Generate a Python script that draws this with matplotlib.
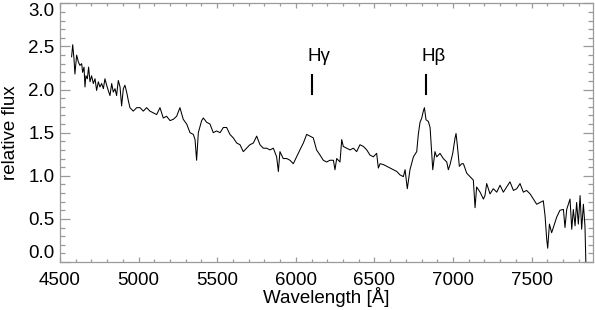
from matplotlib import pyplot as plt
from matplotlib.ticker import MultipleLocator

# spectrum (wavelength in Angstrom)
wave = [4574, 4581, 4589, 4595, 4606, 4617, 4627, 4638, 4644, 4653,
        4659, 4665, 4674, 4682, 4691, 4701, 4712, 4723, 4733, 4744,
        4754, 4765, 4776, 4786, 4797, 4807, 4818, 4829, 4839, 4850,
        4860, 4871, 4882, 4892, 4903, 4913, 4924, 4935, 4945,
        4966, 4988, 5009, 5030, 5051, 5072, 5094,
        5115, 5136, 5157, 5178, 5200, 5221, 5242, 5263, 5284, 5306,
        5327, 5348, 5359, 5369, 5380, 5401, 5412, 5433, 5454, 5475,
        5496, 5518, 5539, 5560, 5581, 5602, 5624, 5645, 5666, 5687,
        5708, 5730, 5751, 5772, 5793, 5814, 5836, 5857, 5878, 5889,
        5899, 5920, 5942, 5963, 5984, 6005, 6026, 6048, 6069, 6090,
        6111, 6132, 6154, 6175, 6196, 6217, 6239, 6249, 6260, 6281,
        6292, 6302, 6324, 6345, 6366, 6387, 6408, 6430, 6451, 6472,
        6493, 6514, 6525, 6536, 6557, 6578, 6599, 6620, 6642, 6663,
        6684, 6695, 6709, 6726, 6748, 6769, 6779, 6790, 6801, 6811,
        6818, 6828, 6843, 6854, 6864, 6871, 6885, 6896, 6917, 6938,
        6960, 6970, 6981, 6998, 7013, 7019, 7027, 7040, 7055, 7066,
        7087, 7108, 7129, 7140, 7150, 7172, 7193, 7203, 7214, 7235,
        7256, 7278, 7299, 7320, 7341, 7362, 7384, 7405, 7426, 7447,
        7468, 7490, 7511, 7532, 7553, 7574, 7585, 7596, 7602, 7613,
        7627, 7638, 7659, 7680, 7702, 7712, 7723, 7744, 7755, 7765,
        7776, 7786, 7797, 7808, 7818, 7829, 7839, 7846]
flux = [2.38, 2.52, 2.36, 2.18, 2.40, 2.32, 2.28, 2.30, 2.20, 2.26,
        2.03, 2.16, 2.125, 2.26, 2.09, 2.16, 2.07, 2.125, 1.99, 2.09,
        2.03, 2.07, 2.01, 2.125, 2.05, 1.99, 1.93, 2.07, 1.97, 2.01,
        1.93, 2.105, 2.03, 1.81, 2.01, 2.05, 1.97, 1.87, 1.79,
        1.75, 1.79, 1.79, 1.75, 1.79, 1.75, 1.73,
        1.71, 1.79, 1.67, 1.69, 1.64, 1.655, 1.69, 1.79, 1.655, 1.60,
        1.50, 1.48, 1.42, 1.18, 1.50, 1.64, 1.67, 1.62, 1.60, 1.50,
        1.52, 1.50, 1.56, 1.56, 1.48, 1.44, 1.38, 1.36, 1.28, 1.32,
        1.36, 1.38, 1.46, 1.36, 1.32, 1.32, 1.30, 1.32, 1.22, 1.05,
        1.28, 1.20, 1.20, 1.18, 1.14, 1.22, 1.30, 1.38, 1.48, 1.46,
        1.44, 1.30, 1.24, 1.18, 1.16, 1.18, 1.18, 1.07, 1.20, 1.16,
        1.42, 1.34, 1.32, 1.30, 1.32, 1.28, 1.36, 1.34, 1.30, 1.24,
        1.22, 1.26, 1.09, 1.14, 1.13, 1.11, 1.09, 1.07, 1.05, 1.01,
        0.99, 1.07, 0.85, 1.07, 1.22, 1.28, 1.48, 1.62, 1.67, 1.75,
        1.79, 1.65, 1.63, 1.56, 1.28, 1.07, 1.28, 1.22, 1.26, 1.20,
        1.16, 1.07, 1.13, 1.26, 1.44, 1.49, 1.36, 1.11, 1.14, 1.14,
        1.03, 0.99, 0.95, 0.63, 0.87, 0.81, 0.73, 0.77, 0.91, 0.79,
        0.85, 0.81, 0.89, 0.81, 0.87, 0.93, 0.83, 0.85, 0.91, 0.81,
        0.83, 0.79, 0.73, 0.67, 0.69, 0.71, 0.54, 0.26, 0.16, 0.44,
        0.34, 0.40, 0.52, 0.60, 0.61, 0.40, 0.61, 0.73, 0.38, 0.61,
        0.42, 0.69, 0.44, 0.77, 0.38, 0.67, 0.42, -0.1]

# line markers
line_names = ['H\u03b3', 'H\u03b2']
line_waves = [6105, 6828]

plt.rcParams['font.family'] = ['Liberation Sans', 'DejaVu Sans']
grey = '#9a9a9a'
fs = 13.5

fig = plt.figure(figsize=(5.95, 3.10), dpi=100)
ax = fig.add_axes([0.1008, 0.1548, 0.8958, 0.8345])
ax.plot(wave, flux, color='black', lw=0.75)

for name, w in zip(line_names, line_waves):
    ax.plot([w, w], [1.95, 2.17], color='black', lw=1.5)
    ax.text(w - 30, 2.38, name, fontsize=fs, ha='left', va='center')

ax.set_xlim(4500, 7890)
ax.set_ylim(0, 3.0)
ax.xaxis.set_major_locator(MultipleLocator(500))
ax.xaxis.set_minor_locator(MultipleLocator(100))
ax.yaxis.set_major_locator(MultipleLocator(0.5))
ax.yaxis.set_minor_locator(MultipleLocator(0.1))
ax.yaxis.set_major_formatter(plt.FormatStrFormatter('%.1f'))

for s in ax.spines.values():
    s.set_color(grey)
    s.set_linewidth(0.9)
ax.tick_params(which='both', direction='in', top=True, right=True,
               color=grey, width=0.9, labelsize=fs)
ax.tick_params(axis='x', which='major', length=3.6, pad=7)
ax.tick_params(axis='x', which='minor', length=2)
ax.tick_params(axis='y', which='major', length=7, pad=4)
ax.tick_params(axis='y', which='minor', length=3.6)

ax.set_xlabel('Wavelength [Å]', fontsize=fs, labelpad=-1)
ax.set_ylabel('relative flux', fontsize=fs, labelpad=6.5)

# keep the end labels inside the frame like the original
fig.canvas.draw()
for t, loc in zip(ax.yaxis.get_major_ticks(), ax.yaxis.get_majorticklocs()):
    if abs(loc) < 1e-6:
        t.label1.set_va('bottom')
    elif abs(loc - 3.0) < 1e-6:
        t.label1.set_va('top')

fig.savefig('out.png', dpi=100)
